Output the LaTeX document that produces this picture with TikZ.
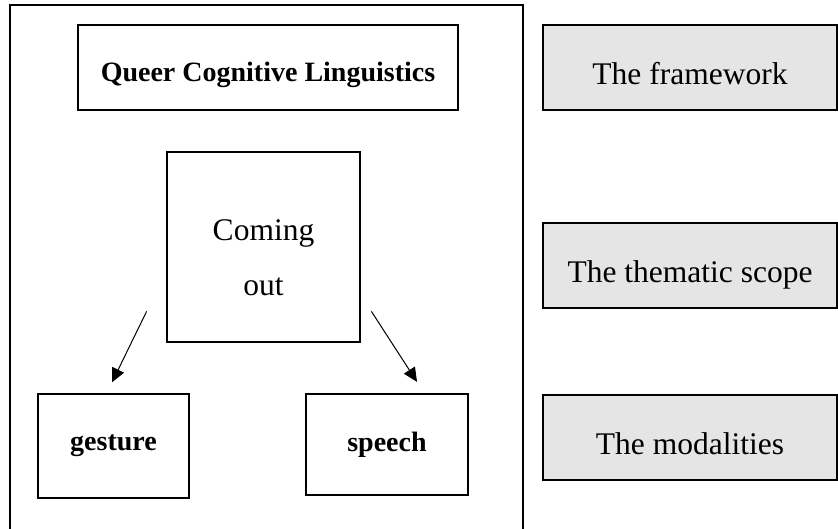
\documentclass[tikz,border=0pt]{standalone}
\usepackage{fontspec}
\setmainfont{Liberation Serif}
\usepackage{tikz}
\usetikzlibrary{arrows.meta,positioning}

\begin{document}
\begin{tikzpicture}[
    x=1pt, y=1pt,
    box/.style={draw, inner sep=0pt, align=center, line width=1.3pt},
    bold/.style={font=\fontsize{28}{34}\selectfont\bfseries},
    plain/.style={font=\fontsize{31.5}{55}\selectfont},
    level/.style={box, plain, fill=black!10, line width=1.7pt, minimum width=294pt, minimum height=85pt,
        text height=36pt, text depth=1pt},
    arr/.style={-{Triangle[length=14pt,width=13pt]}, line width=1pt}
]
\useasboundingbox (0,0) rectangle (838,529);
% left frame, open at the bottom
\draw[line width=2.8pt] (10,-10) rectangle (523,524);

\node[box, bold, minimum width=380pt, minimum height=85pt, text height=30pt, text depth=1pt] (qcl) at (268,461.5) {Queer Cognitive Linguistics};
\node[box, plain, line width=2.8pt, minimum width=193pt, minimum height=190pt] (come) at (263.5,282)
    {\raisebox{-10pt}[\height][\depth]{\begin{tabular}{@{}c@{}}Coming\\out\end{tabular}}};
\node[box, bold, minimum width=151pt, minimum height=104pt] (gest) at (113.5,83) {gesture};
\node[box, bold, minimum width=162pt, minimum height=101pt] (speech) at (387,84.5) {speech};

\node[level] (frame) at (690,461.5) {The framework};
\node[level] (scope) at (690,263.5) {The thematic scope};
\node[level] (modal) at (690,91.5) {The modalities};

\draw[arr] ([shift={(-19pt,32pt)}]come.south west) -- ([shift={(-1.5pt,11pt)}]gest.north);
\draw[arr] ([shift={(10pt,32pt)}]come.south east) -- ([shift={(30pt,11.5pt)}]speech.north);
\end{tikzpicture}
\end{document}
